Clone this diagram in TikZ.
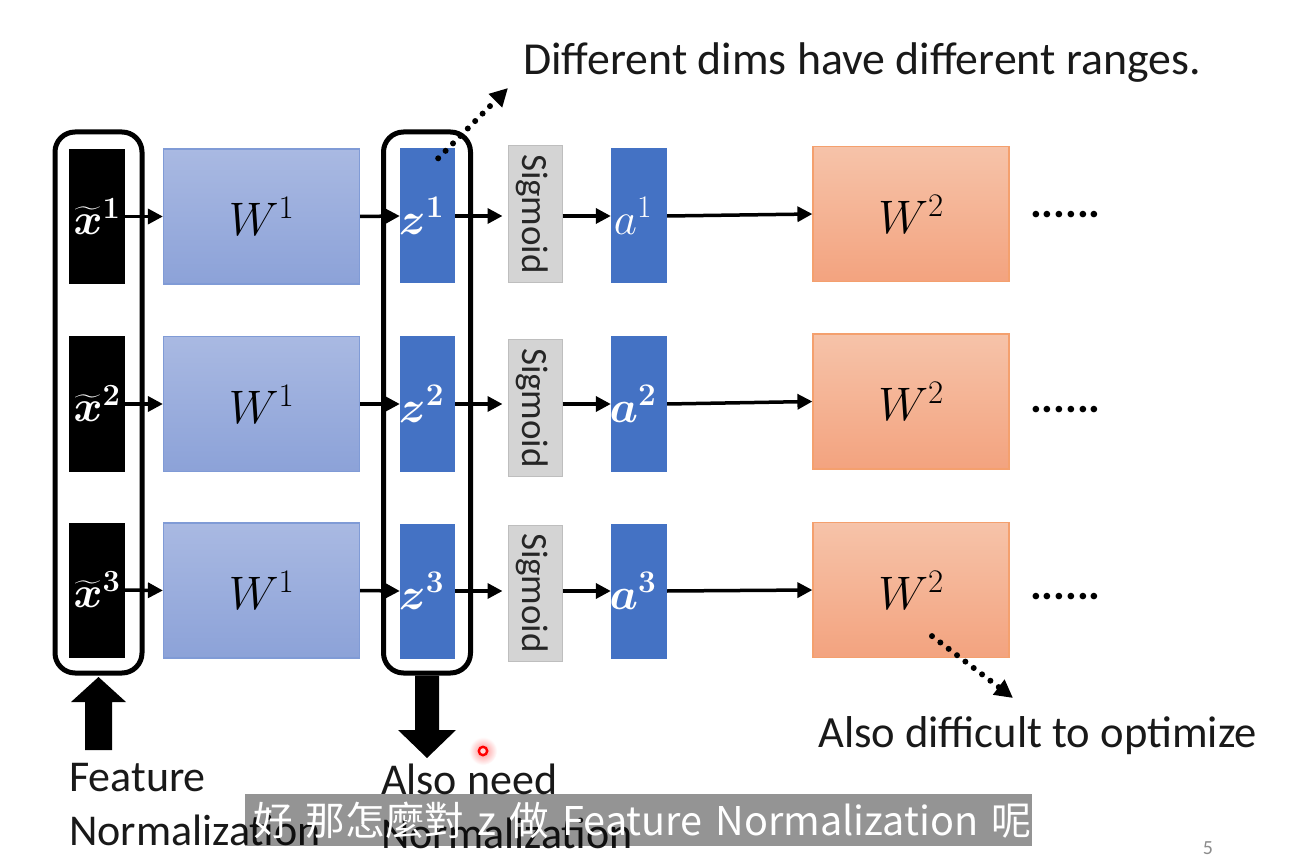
\RequirePackage{fix-cm}
\documentclass[tikz,border=0pt]{standalone}
\usepackage{amsmath}
\usepackage[no-math]{fontspec}
\setmainfont{Carlito}
\newfontfamily\cjk{Noto Sans CJK TC}
\usetikzlibrary{arrows.meta,calc}

\definecolor{wonetop}{HTML}{A9B9E2}
\definecolor{wonebot}{HTML}{8CA2D8}
\definecolor{wonebd}{HTML}{809BD6}
\definecolor{wtwotop}{HTML}{F6C3A9}
\definecolor{wtwobot}{HTML}{F3A37F}
\definecolor{wtwobd}{HTML}{F4A06E}
\definecolor{vecblue}{HTML}{4472C4}
\definecolor{sigfill}{HTML}{D4D4D4}
\definecolor{sigbd}{HTML}{BEBEBE}

\begin{document}
\begin{tikzpicture}[x=1pt,y=-1pt,
  every node/.style={inner sep=0pt},
  inbox/.style={fill=black, minimum width=56pt, minimum height=135pt, text=white,
    font=\fontsize{44}{50}\selectfont},
  wone/.style={draw=wonebd, line width=1.2pt, top color=wonetop, bottom color=wonebot,
    minimum width=196pt, minimum height=135pt, font=\fontsize{47}{50}\selectfont},
  wtwo/.style={draw=wtwobd, line width=1.2pt, top color=wtwotop, bottom color=wtwobot,
    minimum width=196pt, minimum height=135pt, font=\fontsize{47}{50}\selectfont},
  vec/.style={fill=vecblue, minimum width=55pt, minimum height=135pt},
  vectext/.style={text=white, font=\fontsize{45}{50}\selectfont},
  sigbox/.style={fill=sigfill, draw=sigbd, line width=1pt, minimum width=54pt, minimum height=137pt},
  sigtext/.style={rotate=-90, text=black!85, font=\fontsize{37}{40}\selectfont},
  group/.style={draw=black, line width=5pt, rounded corners=20pt,
    minimum width=87pt, minimum height=541pt},
  arr/.style={line width=3.5pt, -{Triangle[length=15pt,width=15pt]}},
  dotarr/.style={line width=6pt, dash pattern=on 0pt off 10.5pt, line cap=round,
    -{Triangle[length=18pt,width=18pt]}},
  lbl/.style={font=\fontsize{44}{54}\selectfont, text=black!90},
  more/.style={font=\bfseries\fontsize{44}{50}\selectfont, anchor=base west},
]
% canvas
\useasboundingbox[fill=white] (0,0) rectangle (1312,858);

% group frames
\node[group] (g1) at (98.5,402.5) {};
\node[group] (g2) at (427,402.5) {};

% row 1
\node[inbox] (x1) at (97,216.5) {$\widetilde{\boldsymbol{x}}^{\mathbf{1}}$};
\node[wone] (wa1) at (261.5,216.5) {$W^1$};
\node[vec] (z1) at (427.5,216) {};
\node[vectext] at ($(z1)+(-6,0)$) {$\boldsymbol{z}^{\mathbf{1}}$};
\node[sigbox] (s1) at (535,214) {};
\node[sigtext] at ($(s1)+(-3,0)$) {Sigmoid};
\node[vec, minimum width=56pt] (a1) at (639,216) {};
\node[vectext] at ($(a1)+(-6,0)$) {$a^1$};
\node[wtwo] (wb1) at (911,214) {$W^2$};
\node[more] (d1) at (1030,218) {......};

% row 2
\node[inbox] (x2) at (97,404) {$\widetilde{\boldsymbol{x}}^{\mathbf{2}}$};
\node[wone] (wa2) at (261.5,404) {$W^1$};
\node[vec] (z2) at (427.5,404) {};
\node[vectext] at ($(z2)+(-6,0)$) {$\boldsymbol{z}^{\mathbf{2}}$};
\node[sigbox, minimum height=136pt] (s2) at (535,408) {};
\node[sigtext] at ($(s2)+(-3,0)$) {Sigmoid};
\node[vec, minimum width=56pt] (a2) at (639,404) {};
\node[vectext] at ($(a2)+(-6,0)$) {$\boldsymbol{a}^{\mathbf{2}}$};
\node[wtwo] (wb2) at (911,401.5) {$W^2$};
\node[more] (d2) at (1030,413) {......};

% row 3
\node[inbox] (x3) at (97,590) {$\widetilde{\boldsymbol{x}}^{\mathbf{3}}$};
\node[wone] (wa3) at (261.5,590.5) {$W^1$};
\node[vec] (z3) at (427.5,591) {};
\node[vectext] at ($(z3)+(-6,0)$) {$\boldsymbol{z}^{\mathbf{3}}$};
\node[sigbox, minimum height=136pt] (s3) at (535,593) {};
\node[sigtext] at ($(s3)+(-3,0)$) {Sigmoid};
\node[vec, minimum width=56pt] (a3) at (639,591) {};
\node[vectext] at ($(a3)+(-6,0)$) {$\boldsymbol{a}^{\mathbf{3}}$};
\node[wtwo] (wb3) at (911,590) {$W^2$};
\node[more] (d3) at (1030,599) {......};

% forward connections
\foreach \r in {1,2,3} {
  \draw[arr] (x\r.east) -- (wa\r.west);
  \draw[arr] (wa\r.east) -- (z\r.west);
  \draw[arr, shorten >=5pt] (z\r.east) -- (z\r.east -| s\r.west);
  \draw[arr] (s\r.east |- a\r.west) -- (a\r.west);
  \draw[arr] (a\r.east) -- (wb\r.west);
}

% block arrows
\fill ($(g1.south)+(0,1.5)$) -- ++(27.5,25) -- ++(-14,0) -- ++(0,48) -- ++(-27,0)
  -- ++(0,-48) -- ++(-14,0) -- cycle;
\fill ($(g2.south)+(-12,0)$) -- ++(24,0) -- ++(0,54.5) -- ++(17,0) -- ++(-29,28)
  -- ++(-29,-28) -- ++(17,0) -- cycle;

% annotations
\node[lbl, font=\fontsize{45.8}{54}\selectfont, anchor=base west] (dimnote) at (523,75)
  {Different dims have different ranges.};
\coordinate (dimtip) at (508,88);
\draw[dotarr] ($(z1.north east)+(-17,10)$) -- (dimtip);

\node[lbl, font=\fontsize{44.6}{54}\selectfont, anchor=base west] (optnote) at (818,747)
  {Also difficult to optimize};
\coordinate (opttip) at (1013,698);
\draw[dotarr] ($(wb3.south)+(21,-22)$) -- (opttip);

\node[lbl, anchor=north west, align=left] (featnote) at (69,763) {Feature\\Normalization};
\node[lbl, anchor=north west, align=left] (neednote) at (381,764) {Also need\\Normalization};

% pointer dot
\shade[inner color=red!45, outer color=white] (483,751) circle (14);
\draw[red, line width=2.4pt, fill=red!15] (483,751) circle (4.2);

% caption strip
\node[fill=black, fill opacity=0.42, text opacity=1, text=white, anchor=north west,
  text width=771pt, align=left, inner xsep=8pt, minimum height=52pt,
  font=\cjk\fontsize{39.6}{44}\selectfont] (caption) at (245,794)
  {\mbox{好 那怎麼對 z 做 Feature Normalization 呢}};

% page number
\node[anchor=base, text=black!45, font=\fontsize{20}{22}\selectfont] (pageno) at (1208,854) {5};
\end{tikzpicture}
\end{document}
